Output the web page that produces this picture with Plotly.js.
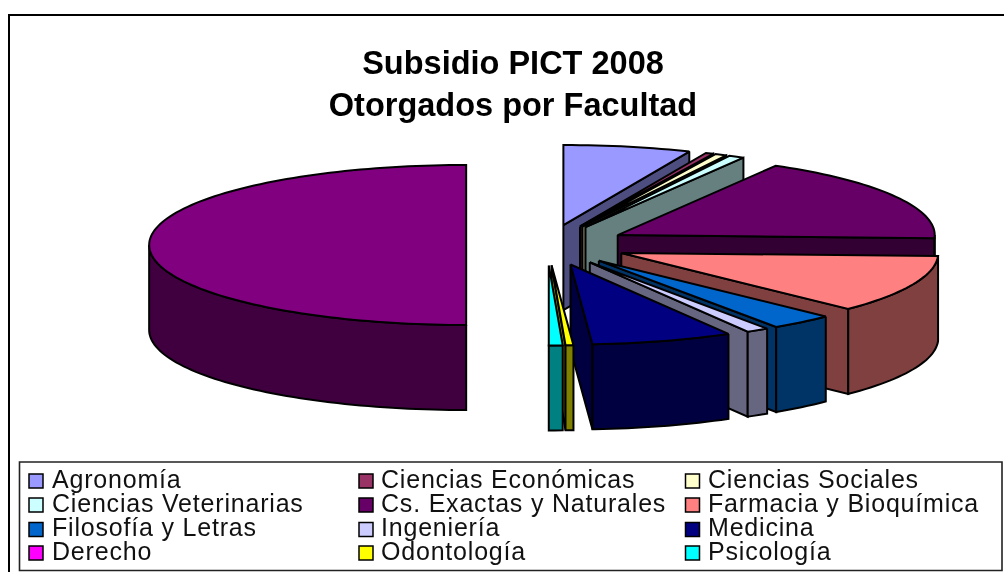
<!DOCTYPE html>
<html>
<head>
<meta charset="utf-8">
<script src="https://cdn.plot.ly/plotly-3.0.1.min.js"></script>
<style>
html,body{margin:0;padding:0;background:#fff;overflow:hidden}
#chart{width:1004px;height:572px;filter:blur(0.45px)}
.textpoint text{letter-spacing:0.8px}
</style>
</head>
<body>
<div id="chart"></div>
<script>
// Data (share of the pie, %), in clockwise order from 12 o'clock.
const categories = ["Agronomía","Ciencias Económicas","Ciencias Sociales","Ciencias Veterinarias","Cs. Exactas y Naturales","Farmacia y Bioquímica","Filosofía y Letras","Ingeniería","Medicina","Derecho","Odontología","Psicología","(sin leyenda)"];
const values = [6.5,0.4,0.6,0.8,17.3,11.7,3.25,1.15,7.2,0,0.4,0.7,50];
const topColors = ["#9999FF","#993366","#FFFFCC","#CCFFFF","#660066","#FF8080","#0066CC","#CCCCFF","#000080","#FF00FF","#FFFF00","#00FFFF","#800080"];
const wallColors = ["#4D4D80","#4D1A33","#808066","#668080","#330033","#804040","#003366","#666680","#000040","#800080","#808000","#008080","#400040"];
const legendCount = 12;
const titleText = "Subsidio PICT 2008<br>Otorgados por Facultad";

// Geometry of the 3-D projection
const cx=547, cy=245, rx=317, ry=80, depth=85, pull=0.255;
const rad=d=>d*Math.PI/180;
const total=values.reduce((a,b)=>a+b,0);
const traces=[];
function poly(pts,fill){
  traces.push({type:"scatter",mode:"lines",x:pts.map(p=>p[0]),y:pts.map(p=>p[1]),
    fill:"toself",fillcolor:fill,line:{color:"#000",width:2,simplify:false},
    hoverinfo:"skip",showlegend:false});
}
let acc=0;
values.forEach((v,i)=>{
  const a1=acc/total*360, a2=(acc+v)/total*360; acc+=v;
  if(v<=0) return;
  const mid=(a1+a2)/2;
  const ax=cx+pull*rx*Math.sin(rad(mid)), ay=cy-pull*ry*Math.cos(rad(mid));
  const pt=a=>[ax+rx*Math.sin(rad(a)),ay-ry*Math.cos(rad(a))];
  const down=p=>[p[0],p[1]+depth];
  // clockwise-end cut face, visible on the eastern half
  if(Math.sin(rad(a2))>0.001){
    const e=pt(a2);
    poly([[ax,ay],e,down(e),[ax,ay+depth],[ax,ay]],wallColors[i]);
  }
  // counter-clockwise cut face, visible on the western half
  if(Math.sin(rad(a1))<-0.001){
    const s=pt(a1);
    poly([[ax,ay],s,down(s),[ax,ay+depth],[ax,ay]],wallColors[i]);
  }
  // outer wall, only the part facing the viewer
  const w1=Math.max(a1,90), w2=Math.min(a2,270);
  if(w2>w1){
    const arc=[];
    for(let a=w1;a<w2;a+=1.5) arc.push(pt(a));
    arc.push(pt(w2));
    const pts=arc.concat(arc.slice().reverse().map(down));
    pts.push(arc[0]);
    poly(pts,wallColors[i]);
  }
  // top face
  const top=[[ax,ay]];
  for(let a=a1;a<a2;a+=1.5) top.push(pt(a));
  top.push(pt(a2),[ax,ay]);
  poly(top,topColors[i]);
});

// Legend: three columns filled row by row
const colMarkerX=[36,366,692.5], colTextX=[52,381,708], rowY=[482,506,530,554];
const markerRowY=[481,505,529.5,553];
const lx=[],ly=[],tx=[],ty=[],names=[],mc=[];
categories.slice(0,legendCount).forEach((c,i)=>{
  const col=i%3,row=Math.floor(i/3);
  lx.push(colMarkerX[col]);ly.push(markerRowY[row]);
  tx.push(colTextX[col]);ty.push(rowY[row]);
  names.push(c);mc.push(topColors[i]);
});
traces.push({type:"scatter",mode:"markers",x:lx,y:ly,
  marker:{symbol:"square",size:14,color:mc,line:{color:"#000",width:1.5}},
  hoverinfo:"skip",showlegend:false});
traces.push({type:"scatter",mode:"text",x:tx,y:ty,text:names,textposition:"middle right",
  textfont:{family:"Liberation Sans, Arial, sans-serif",size:25,color:"#111"},
  hoverinfo:"skip",showlegend:false});

const layout={
  width:1004,height:572,margin:{l:0,r:0,t:0,b:0},
  paper_bgcolor:"#fff",plot_bgcolor:"#fff",showlegend:false,
  xaxis:{range:[0,1004],visible:false,fixedrange:true},
  yaxis:{range:[572,0],visible:false,fixedrange:true},
  title:{text:titleText,x:513/1004,xanchor:"center",y:1-74/572,yanchor:"middle",
    font:{family:"Liberation Sans, Arial, sans-serif",size:32.5,color:"#000",weight:700}},
  shapes:[
    {type:"rect",xref:"x",yref:"y",x0:9,x1:1012,y0:15,y1:590,line:{color:"#000",width:2},layer:"below"},
    {type:"rect",xref:"x",yref:"y",x0:19.5,x1:1002,y0:462,y1:570.5,line:{color:"#222",width:1.6},layer:"below"}
  ]
};
Plotly.newPlot("chart",traces,layout,{displayModeBar:false,staticPlot:true});
</script>
</body>
</html>
